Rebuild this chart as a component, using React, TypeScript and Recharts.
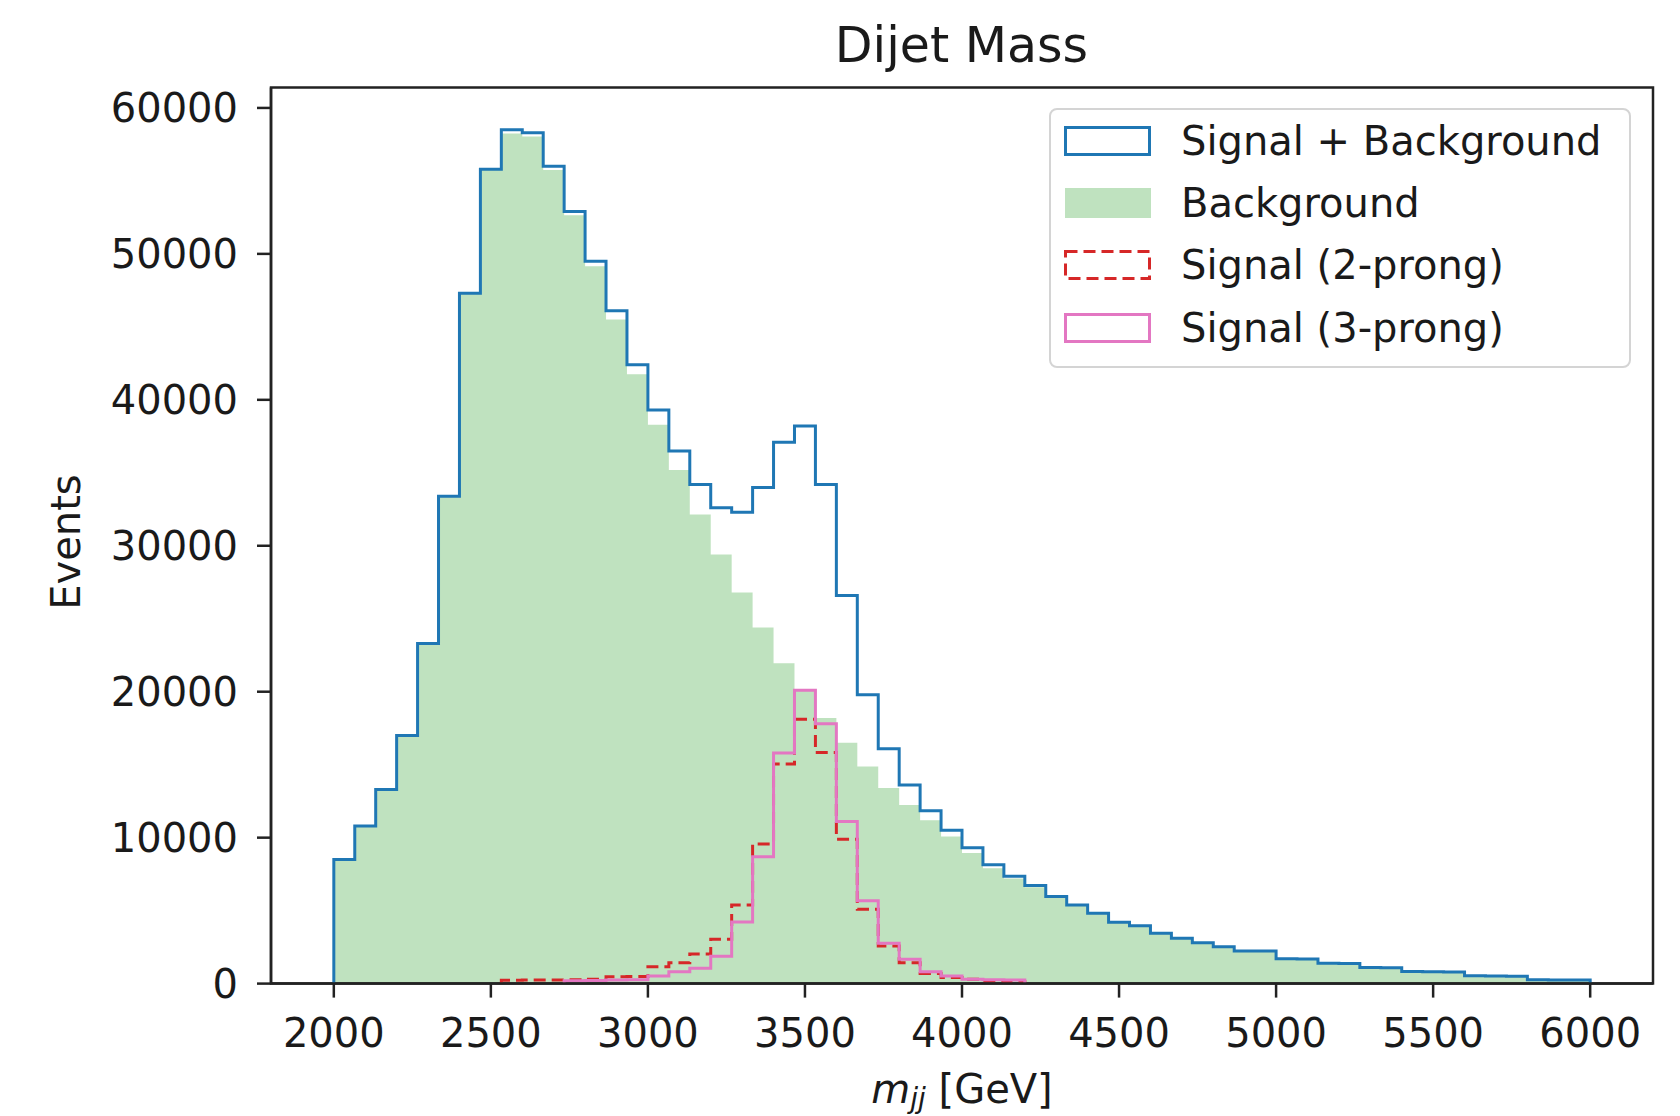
import { ComposedChart, Line, Area, XAxis, YAxis, ReferenceArea } from "recharts"

// histogram: 60 bins between 2000 and 6000 GeV
const binStart = 2000
const binWidth = 4000 / 60

const total = [
  8500, 10800, 13300, 17000, 23300, 33400, 47300, 55800, 58500, 58300,
  56000, 52900, 49500, 46100, 42400, 39300, 36500, 34200, 32600, 32300,
  34000, 37100, 38200, 34200, 26600, 19800, 16100, 13600, 11850, 10500,
  9300, 8150, 7350, 6720, 5960, 5390, 4820, 4200, 3970, 3450,
  3100, 2800, 2530, 2240, 2240, 1700, 1680, 1400, 1380, 1100,
  1080, 830, 820, 800, 530, 520, 500, 260, 250, 240,
]

const background = [
  8500, 10800, 13300, 17000, 23300, 33400, 47300, 55800, 58250, 58050,
  55750, 52650, 49150, 45500, 41750, 38300, 35200, 32150, 29400, 26800,
  24400, 21950, 20050, 18200, 16500, 14870, 13400, 12240, 11200, 10080,
  8950, 7900, 7200, 6600, 5900, 5350, 4790, 4180, 3950, 3430,
  3090, 2790, 2520, 2230, 2230, 1695, 1675, 1395, 1375, 1095,
  1075, 825, 815, 795, 525, 515, 495, 255, 245, 235,
]

// 2-prong signal starts at bin 8, 3-prong at bin 11
const signal2First = 8
const signal2 = [
  230, 250, 250, 260, 300, 470, 480, 1160, 1430, 2030,
  3040, 5390, 9570, 15050, 18110, 15830, 9890, 5090, 2580, 1430,
  700, 420, 300, 180, 120,
]

const signal3First = 11
const signal3 = [
  200, 220, 240, 260, 520, 820, 1050, 1870, 4220, 8700,
  15800, 20100, 17800, 11100, 5680, 2760, 1660, 820, 520, 290,
  270, 250,
]

const xTicks = [2000, 2500, 3000, 3500, 4000, 4500, 5000, 5500, 6000]
const yTicks = [0, 10000, 20000, 30000, 40000, 50000, 60000]

const legendItems = [
  { name: "Signal + Background", kind: "line", color: "#1f77b4" },
  { name: "Background", kind: "fill", color: "#2ca02c" },
  { name: "Signal (2-prong)", kind: "dash", color: "#d62728" },
  { name: "Signal (3-prong)", kind: "line", color: "#e377c2" },
]

function stepData(values: number[], first: number) {
  const pts = [{ x: binStart + first * binWidth, y: 0 }]
  values.forEach((v, i) => pts.push({ x: binStart + (first + i) * binWidth, y: v }))
  const end = binStart + (first + values.length) * binWidth
  pts.push({ x: end, y: values[values.length - 1] })
  pts.push({ x: end, y: 0 })
  return pts
}

const font = "'DejaVu Sans', sans-serif"
const ink = "#1a1a1a"

function HistLegend() {
  return (
    <div style={{
      position: "absolute", left: 1049, top: 108, width: 582, height: 260, boxSizing: "border-box",
      border: "2.5px solid #d4d4d4", borderRadius: 8, background: "rgba(255,255,255,0.8)",
      fontFamily: font, fontSize: 40, color: ink,
    }}>
      {legendItems.map((it, i) => (
        <div key={it.name} style={{ position: "absolute", left: 13, top: i * 62.2, height: 62, display: "flex", alignItems: "center" }}>
          <svg width={90} height={34} style={{ display: "block" }}>
            {it.kind === "fill" ? (
              <rect x={1} y={2} width={86} height={30} fill={it.color} fillOpacity={0.3} />
            ) : (
              <rect x={1.5} y={3.5} width={84} height={27} fill="none" stroke={it.color} strokeWidth={3}
                strokeDasharray={it.kind === "dash" ? "12 6" : undefined} />
            )}
          </svg>
          <span style={{ marginLeft: 27, lineHeight: 1, whiteSpace: "nowrap" }}>{it.name}</span>
        </div>
      ))}
    </div>
  )
}

export default function App() {
  return (
    <div style={{ position: "absolute", left: 0, top: 0, width: 1680, height: 1116, background: "#fff" }}>
      <svg width={1680} height={100} style={{ position: "absolute", left: 0, top: 0 }}>
        <text x={961.5} y={61.7} textAnchor="middle" fontFamily={font} fontSize={49} fill={ink}>Dijet Mass</text>
      </svg>
      <ComposedChart width={1680} height={1116} margin={{ top: 87.5, right: 27, bottom: 72.4, left: 71 }}>
        <XAxis
          dataKey="x" type="number" domain={[1800, 6200]} ticks={xTicks} allowDataOverflow
          height={60} tickSize={14} tickMargin={21}
          tick={{ fontFamily: font, fontSize: 40, fill: ink }}
          axisLine={{ stroke: "#222", strokeWidth: 2.5 }} tickLine={{ stroke: "#222", strokeWidth: 2.5 }}
          label={{
            content: (p: any) => {
              const vb = p.viewBox
              return (
                <text x={vb.x + vb.width / 2} y={1103} textAnchor="middle" fontFamily={font} fontSize={40} fill={ink}>
                  <tspan fontStyle="italic">m</tspan>
                  <tspan fontStyle="italic" fontSize={28} dy={5}>jj</tspan>
                  <tspan dy={-5}> [GeV]</tspan>
                </text>
              )
            },
          }}
        />
        <YAxis
          type="number" domain={[0, 61400]} ticks={yTicks} allowDataOverflow
          width={200} tickSize={14} tickMargin={19}
          tick={{ fontFamily: font, fontSize: 40, fill: ink }}
          axisLine={{ stroke: "#222", strokeWidth: 2.5 }} tickLine={{ stroke: "#222", strokeWidth: 2.5 }}
          label={{
            content: () => (
              <text x={80} y={542} transform="rotate(-90, 80, 542)" textAnchor="middle" fontFamily={font} fontSize={40} fill={ink}>
                Events
              </text>
            ),
          }}
        />
        <Line data={stepData(total, 0)} dataKey="y" type="stepAfter" stroke="#1f77b4" strokeWidth={3}
          dot={false} activeDot={false} isAnimationActive={false} legendType="none" />
        <Area data={stepData(background, 0)} dataKey="y" type="stepAfter" fill="#2ca02c" fillOpacity={0.3}
          stroke="none" dot={false} activeDot={false} isAnimationActive={false} legendType="none" />
        <Line data={stepData(signal2, signal2First)} dataKey="y" type="stepAfter" stroke="#d62728" strokeWidth={3}
          strokeDasharray="12 6" dot={false} activeDot={false} isAnimationActive={false} legendType="none" />
        <Line data={stepData(signal3, signal3First)} dataKey="y" type="stepAfter" stroke="#e377c2" strokeWidth={3}
          dot={false} activeDot={false} isAnimationActive={false} legendType="none" />
        <ReferenceArea x1={1800} x2={6200} y1={0} y2={61400} fill="none" stroke="#222" strokeWidth={2.5} ifOverflow="visible" />
      </ComposedChart>
      <HistLegend />
    </div>
  )
}
